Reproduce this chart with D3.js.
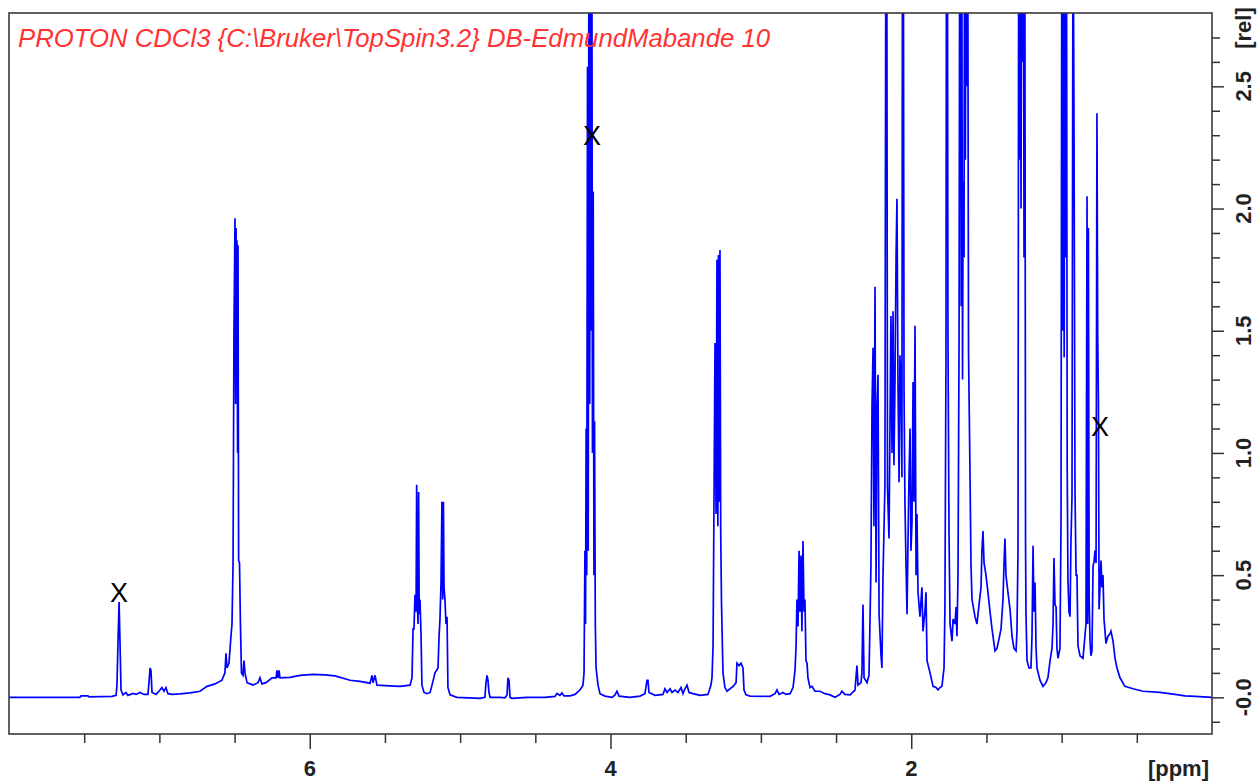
<!DOCTYPE html>
<html>
<head>
<meta charset="utf-8">
<script src="https://cdn.jsdelivr.net/npm/d3@7"></script>
<style>
  html, body { margin: 0; padding: 0; background: #ffffff; }
  svg { display: block; }
</style>
</head>
<body>
<svg id="chart" width="1259" height="783"></svg>
<script>
// ---------------- data ----------------
const titleText = "PROTON CDCl3 {C:\\Bruker\\TopSpin3.2} DB-EdmundMabande 10";

// chemical shift (ppm) of each trace vertex
const shift = [
  8.000, 7.528, 7.521, 7.475, 7.468, 7.315, 7.288, 7.282, 7.275, 7.268,
  7.262, 7.255, 7.242, 7.222, 7.209, 7.175, 7.155, 7.129, 7.102, 7.076,
  7.069, 7.062, 7.056, 7.049, 7.022, 6.996, 6.983, 6.969, 6.956, 6.943,
  6.916, 6.863, 6.796, 6.730, 6.683, 6.630, 6.584, 6.564, 6.557, 6.550,
  6.537, 6.524, 6.517, 6.510, 6.504, 6.497, 6.493, 6.490, 6.486, 6.484,
  6.480, 6.477, 6.473, 6.467, 6.461, 6.454, 6.444, 6.437, 6.431, 6.417,
  6.397, 6.377, 6.344, 6.331, 6.318, 6.291, 6.251, 6.224, 6.218, 6.211,
  6.204, 6.198, 6.131, 6.065, 5.978, 5.899, 5.832, 5.732, 5.666, 5.599,
  5.586, 5.579, 5.566, 5.553, 5.500, 5.400, 5.333, 5.320, 5.313, 5.307,
  5.300, 5.293, 5.289, 5.285, 5.280, 5.276, 5.272, 5.267, 5.260, 5.254,
  5.240, 5.220, 5.200, 5.187, 5.167, 5.147, 5.140, 5.134, 5.127, 5.121,
  5.116, 5.111, 5.107, 5.101, 5.094, 5.087, 5.081, 5.067, 5.021, 4.868,
  4.835, 4.828, 4.821, 4.815, 4.808, 4.801, 4.735, 4.702, 4.688, 4.682,
  4.675, 4.668, 4.655, 4.555, 4.436, 4.369, 4.356, 4.336, 4.323, 4.309,
  4.269, 4.236, 4.203, 4.183, 4.176, 4.170, 4.166, 4.162, 4.158, 4.153,
  4.148, 4.143, 4.138, 4.134, 4.129, 4.124, 4.120, 4.115, 4.110, 4.106,
  4.101, 4.096, 4.083, 4.070, 4.037, 3.990, 3.970, 3.957, 3.943, 3.870,
  3.804, 3.771, 3.757, 3.751, 3.744, 3.704, 3.651, 3.638, 3.624, 3.604,
  3.591, 3.571, 3.551, 3.531, 3.518, 3.505, 3.491, 3.478, 3.451, 3.405,
  3.352, 3.332, 3.325, 3.318, 3.305, 3.298, 3.292, 3.286, 3.282, 3.277,
  3.272, 3.267, 3.262, 3.252, 3.239, 3.225, 3.185, 3.165, 3.159, 3.145,
  3.132, 3.119, 3.112, 3.099, 3.072, 2.939, 2.906, 2.893, 2.879, 2.853,
  2.833, 2.806, 2.786, 2.773, 2.766, 2.760, 2.753, 2.746, 2.740, 2.733,
  2.727, 2.720, 2.713, 2.707, 2.700, 2.693, 2.687, 2.673, 2.660, 2.640,
  2.607, 2.574, 2.540, 2.507, 2.474, 2.461, 2.441, 2.407, 2.374, 2.361,
  2.354, 2.334, 2.328, 2.321, 2.314, 2.294, 2.281, 2.274, 2.268, 2.261,
  2.254, 2.248, 2.241, 2.234, 2.228, 2.221, 2.214, 2.201, 2.195, 2.188,
  2.175, 2.168, 2.163, 2.158, 2.148, 2.135, 2.128, 2.121, 2.115, 2.108,
  2.101, 2.095, 2.088, 2.081, 2.075, 2.068, 2.062, 2.058, 2.053, 2.048,
  2.042, 2.035, 2.028, 2.022, 2.015, 2.008, 2.002, 1.995, 1.988, 1.982,
  1.975, 1.968, 1.962, 1.955, 1.942, 1.929, 1.922, 1.909, 1.902, 1.895,
  1.875, 1.855, 1.835, 1.822, 1.809, 1.796, 1.782, 1.776, 1.769, 1.765,
  1.760, 1.756, 1.749, 1.742, 1.729, 1.722, 1.709, 1.702, 1.696, 1.689,
  1.682, 1.677, 1.673, 1.668, 1.663, 1.659, 1.655, 1.649, 1.645, 1.640,
  1.635, 1.629, 1.625, 1.619, 1.609, 1.603, 1.596, 1.576, 1.563, 1.549,
  1.536, 1.530, 1.523, 1.516, 1.503, 1.490, 1.476, 1.463, 1.443, 1.430,
  1.416, 1.403, 1.390, 1.383, 1.377, 1.370, 1.357, 1.343, 1.330, 1.317,
  1.303, 1.297, 1.290, 1.285, 1.280, 1.275, 1.270, 1.265, 1.260, 1.255,
  1.250, 1.245, 1.240, 1.237, 1.230, 1.217, 1.204, 1.197, 1.190, 1.184,
  1.177, 1.170, 1.164, 1.144, 1.124, 1.104, 1.091, 1.077, 1.064, 1.057,
  1.051, 1.044, 1.037, 1.031, 1.024, 1.011, 1.004, 0.998, 0.992, 0.988,
  0.983, 0.978, 0.972, 0.968, 0.963, 0.958, 0.951, 0.944, 0.938, 0.931,
  0.924, 0.918, 0.911, 0.904, 0.898, 0.891, 0.878, 0.858, 0.845, 0.838,
  0.831, 0.827, 0.822, 0.817, 0.811, 0.805, 0.798, 0.791, 0.785, 0.778,
  0.771, 0.765, 0.760, 0.755, 0.751, 0.745, 0.738, 0.732, 0.725, 0.718,
  0.705, 0.692, 0.678, 0.672, 0.658, 0.645, 0.632, 0.612, 0.579, 0.525,
  0.459, 0.346, 0.246, 0.180, 0.113, 0.000
];

// relative intensity [rel] at each vertex (values above 2.8 are off-scale, clipped)
const intensity = [
  0, 0, 0.006, 0.006, 0.002, 0.004, 0.008, 0.05, 0.23, 0.39,
  0.23, 0.03, 0.01, 0.02, 0.008, 0.016, 0.012, 0.02, 0.012, 0.012,
  0.06, 0.12, 0.11, 0.02, 0.012, 0.03, 0.04, 0.025, 0.04, 0.015,
  0.012, 0.014, 0.018, 0.025, 0.045, 0.055, 0.07, 0.1, 0.18, 0.12,
  0.14, 0.25, 0.3, 0.55, 1.50, 1.96, 1.20, 1.92, 1.30, 1.87,
  1.0, 1.85, 0.56, 0.55, 0.30, 0.10, 0.09, 0.15, 0.10, 0.06,
  0.055, 0.05, 0.06, 0.08, 0.055, 0.06, 0.08, 0.08, 0.11, 0.08,
  0.11, 0.08, 0.082, 0.09, 0.094, 0.092, 0.088, 0.07, 0.065, 0.058,
  0.09, 0.06, 0.09, 0.05, 0.048, 0.045, 0.05, 0.08, 0.28, 0.28,
  0.42, 0.35, 0.87, 0.40, 0.30, 0.84, 0.34, 0.40, 0.26, 0.05,
  0.02, 0.015, 0.02, 0.05, 0.10, 0.12, 0.25, 0.32, 0.47, 0.80,
  0.40, 0.80, 0.45, 0.40, 0.30, 0.33, 0.04, 0.01, 0, -0.004,
  0, 0.06, 0.09, 0.07, 0.02, 0, 0, -0.002, 0.01, 0.08,
  0.07, 0, -0.004, 0, 0, 0.004, 0.016, 0.008, 0.018, 0.006,
  0.006, 0.012, 0.03, 0.05, 0.10, 0.60, 0.30, 1.10, 0.50, 2.58,
  0.60, 3.6, 1.2, 3.5, 1.5, 3.3, 1.0, 2.07, 0.5, 1.13,
  0.3, 0.12, 0.05, 0.015, 0.005, 0, 0.01, 0.025, 0.005, 0,
  0.005, 0.015, 0.07, 0.07, 0.02, 0.008, 0.012, 0.035, 0.02, 0.035,
  0.02, 0.03, 0.02, 0.04, 0.015, 0.035, 0.05, 0.02, 0.015, 0.008,
  0.012, 0.05, 0.08, 0.21, 1.45, 0.75, 1.79, 0.7, 1.81, 0.8,
  1.83, 0.67, 0.39, 0.10, 0.04, 0.025, 0.045, 0.06, 0.14, 0.13,
  0.14, 0.12, 0.03, 0.01, 0.005, 0.004, 0.015, 0.03, 0.012, 0.02,
  0.012, 0.015, 0.04, 0.11, 0.21, 0.40, 0.29, 0.60, 0.35, 0.58,
  0.27, 0.64, 0.35, 0.40, 0.15, 0.14, 0.08, 0.04, 0.045, 0.025,
  0.025, 0.015, 0.01, 0, 0.012, 0.025, 0.012, 0.01, 0.03, 0.13,
  0.05, 0.06, 0.10, 0.38, 0.08, 0.06, 0.09, 0.32, 0.54, 1.19,
  1.43, 0.70, 1.68, 0.47, 1.17, 1.32, 0.34, 0.17, 0.12, 0.49,
  0.87, 3.5, 3.4, 0.86, 0.65, 1.56, 1.0, 1.58, 0.95, 1.3,
  1.80, 2.04, 1.27, 0.88, 1.4, 1.28, 0.9, 3.5, 3.4, 1.25,
  0.8, 0.55, 0.34, 0.62, 0.9, 1.10, 0.6, 0.72, 1.29, 0.8,
  1.52, 0.5, 0.75, 0.43, 0.33, 0.45, 0.27, 0.35, 0.43, 0.15,
  0.10, 0.045, 0.04, 0.03, 0.04, 0.045, 0.12, 0.37, 1.40, 3.6,
  3.5, 1.5, 0.68, 0.3, 0.23, 0.32, 0.30, 0.37, 0.25, 0.5,
  1.47, 3.6, 3.4, 1.6, 2.8, 1.3, 2.11, 1.8, 3.5, 2.2,
  3.6, 2.5, 3.4, 1.41, 0.90, 0.55, 0.40, 0.33, 0.30, 0.38,
  0.45, 0.60, 0.68, 0.55, 0.50, 0.43, 0.35, 0.28, 0.19, 0.20,
  0.24, 0.28, 0.40, 0.55, 0.65, 0.50, 0.43, 0.36, 0.25, 0.20,
  0.19, 0.27, 0.6, 3.5, 2.2, 3.6, 2.0, 3.6, 2.6, 3.5,
  1.8, 3.4, 0.64, 0.34, 0.15, 0.12, 0.12, 0.25, 0.62, 0.35,
  0.47, 0.2, 0.12, 0.07, 0.045, 0.06, 0.08, 0.15, 0.2, 0.3,
  0.57, 0.38, 0.37, 0.2, 0.16, 0.20, 0.72, 3.5, 1.5, 3.6,
  1.39, 3.5, 1.8, 3.4, 0.95, 0.48, 0.35, 0.33, 0.64, 0.82,
  3.3, 2.41, 0.84, 0.5, 0.5, 0.21, 0.17, 0.16, 0.25, 0.3,
  2.05, 0.3, 1.92, 0.4, 0.23, 0.17, 0.19, 0.54, 0.55, 0.6,
  0.55, 2.39, 1.48, 1.2, 0.36, 0.45, 0.56, 0.45, 0.5, 0.32,
  0.22, 0.25, 0.26, 0.27, 0.23, 0.16, 0.12, 0.08, 0.045, 0.035,
  0.025, 0.02, 0.012, 0.006, 0.004, 0
];

// "X" annotations on peaks
const markerShift = [7.268, 4.123, 0.745];
const markerValue = [0.426, 2.295, 1.105];
const markerText = ["X", "X", "X"];

// axes
const xDomain = [8.0, 0.0];
const yDomain = [-0.15, 2.80];
const xTicks = [7.5, 7.0, 6.5, 6.0, 5.5, 5.0, 4.5, 4.0, 3.5, 3.0, 2.5, 2.0, 1.5, 1.0, 0.5];
const xLabelValues = [6, 4, 2];
const xLabelText = ["6", "4", "2"];
const xUnit = "[ppm]";
const yTicks = [-0.1, 0.0, 0.1, 0.2, 0.3, 0.4, 0.5, 0.6, 0.7, 0.8, 0.9, 1.0, 1.1, 1.2, 1.3,
                1.4, 1.5, 1.6, 1.7, 1.8, 1.9, 2.0, 2.1, 2.2, 2.3, 2.4, 2.5, 2.6, 2.7];
const yLabelValues = [0, 0.5, 1.0, 1.5, 2.0, 2.5];
const yLabelText = ["-0.0", "0.5", "1.0", "1.5", "2.0", "2.5"];
const yUnit = "[rel]";

// ---------------- drawing ----------------
const plot = { left: 9, right: 1212, top: 13, bottom: 734 };
const FONT = "'Liberation Sans', Arial, Helvetica, sans-serif";

const svg = d3.select("#chart");

const x = d3.scaleLinear().domain(xDomain).range([plot.left, plot.right]);
const y = d3.scaleLinear().domain(yDomain).range([plot.bottom, plot.top]);

svg.append("defs").append("clipPath").attr("id", "plotClip")
  .append("rect")
  .attr("x", plot.left).attr("y", plot.top)
  .attr("width", plot.right - plot.left).attr("height", plot.bottom - plot.top);

// spectrum trace
const points = shift.map((s, i) => [s, intensity[i]]);
const line = d3.line().x(d => x(d[0])).y(d => y(d[1]));
svg.append("path")
  .datum(points)
  .attr("clip-path", "url(#plotClip)")
  .attr("fill", "none")
  .attr("stroke", "#0000ff")
  .attr("stroke-width", 1.7)
  .attr("stroke-linejoin", "miter")
  .attr("d", line);

// title
svg.append("text")
  .attr("x", plot.left + 9)
  .attr("y", plot.top + 34)
  .attr("font-family", FONT)
  .attr("font-style", "italic")
  .attr("font-size", 25)
  .attr("fill", "#ff3333")
  .attr("textLength", 752)
  .attr("lengthAdjust", "spacingAndGlyphs")
  .text(titleText);

// X markers
svg.append("g").selectAll("text")
  .data(markerText)
  .join("text")
  .attr("x", (d, i) => x(markerShift[i]))
  .attr("y", (d, i) => y(markerValue[i]))
  .attr("text-anchor", "middle")
  .attr("dominant-baseline", "central")
  .attr("font-family", FONT)
  .attr("font-size", 27)
  .attr("fill", "#000")
  .text(d => d);

// bottom axis
const xAxisG = svg.append("g")
  .attr("transform", `translate(0,${plot.bottom})`)
  .call(d3.axisBottom(x).tickValues(xTicks).tickSize(9).tickFormat(""));
xAxisG.select(".domain").remove();
xAxisG.selectAll(".tick line")
  .attr("stroke", "#333")
  .attr("stroke-width", 1.5)
  .attr("y2", d => xLabelValues.includes(d) ? 15 : 9);

svg.append("g").selectAll("text")
  .data(xLabelValues)
  .join("text")
  .attr("x", d => x(d))
  .attr("y", plot.bottom + 34)
  .attr("text-anchor", "middle")
  .attr("dominant-baseline", "central")
  .attr("font-family", FONT)
  .attr("font-weight", "bold")
  .attr("font-size", 22)
  .attr("fill", "#222")
  .text((d, i) => xLabelText[i]);

svg.append("text")
  .attr("x", plot.right - 3)
  .attr("y", plot.bottom + 34)
  .attr("text-anchor", "end")
  .attr("dominant-baseline", "central")
  .attr("font-family", FONT)
  .attr("font-weight", "bold")
  .attr("font-size", 22)
  .attr("fill", "#222")
  .text(xUnit);

// right axis
const yAxisG = svg.append("g")
  .attr("transform", `translate(${plot.right},0)`)
  .call(d3.axisRight(y).tickValues(yTicks).tickSize(8).tickFormat(""));
yAxisG.select(".domain").remove();
yAxisG.selectAll(".tick line")
  .attr("stroke", "#333")
  .attr("stroke-width", 1.5)
  .attr("x2", d => yLabelValues.some(v => Math.abs(v - d) < 1e-9) ? 12 : 8);

svg.append("g").selectAll("text")
  .data(yLabelValues)
  .join("text")
  .attr("transform", d => `translate(${plot.right + 31},${y(d)}) rotate(-90)`)
  .attr("text-anchor", "middle")
  .attr("dominant-baseline", "central")
  .attr("font-family", FONT)
  .attr("font-weight", "bold")
  .attr("font-size", 22)
  .attr("fill", "#222")
  .text((d, i) => yLabelText[i]);

svg.append("text")
  .attr("transform", `translate(${plot.right + 31},${plot.top + 15}) rotate(-90)`)
  .attr("text-anchor", "middle")
  .attr("dominant-baseline", "central")
  .attr("font-family", FONT)
  .attr("font-weight", "bold")
  .attr("font-size", 22)
  .attr("fill", "#222")
  .text(yUnit);

// frame
svg.append("rect")
  .attr("x", plot.left).attr("y", plot.top)
  .attr("width", plot.right - plot.left).attr("height", plot.bottom - plot.top)
  .attr("fill", "none")
  .attr("stroke", "#3a3a3a")
  .attr("stroke-width", 1.6);
</script>
</body>
</html>
